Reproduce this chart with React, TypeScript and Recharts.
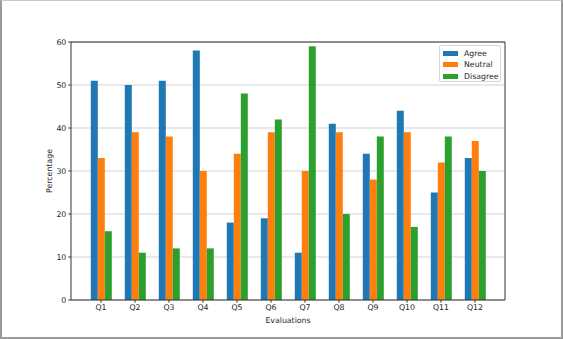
import React from "react";
import { BarChart, Bar, XAxis, YAxis, CartesianGrid } from "recharts";

const questions = ["Q1", "Q2", "Q3", "Q4", "Q5", "Q6", "Q7", "Q8", "Q9", "Q10", "Q11", "Q12"];
const agree = [51, 50, 51, 58, 18, 19, 11, 41, 34, 44, 25, 33];
const neutral = [33, 39, 38, 30, 34, 39, 30, 39, 28, 39, 32, 37];
const disagree = [16, 11, 12, 12, 48, 42, 59, 20, 38, 17, 38, 30];
const yTicks = [0, 10, 20, 30, 40, 50, 60];

const seriesInfo = [
  { key: "Agree", color: "#1f77b4" },
  { key: "Neutral", color: "#ff7f0e" },
  { key: "Disagree", color: "#2ca02c" },
];

const rows = questions.map((q, i) => ({
  name: q,
  Agree: agree[i],
  Neutral: neutral[i],
  Disagree: disagree[i],
}));

const FONT = "'DejaVu Sans', sans-serif";
const TEXT = "#262626";
const SPINE = "#333333";

const LegendBox = () => (
  <div
    style={{
      position: "absolute",
      left: 439,
      top: 45,
      boxSizing: "border-box",
      width: 62,
      height: 37,
      border: "1px solid #d6d6d6",
      borderRadius: 2,
      background: "rgba(255,255,255,0.85)",
      padding: "2px 0 0 2.5px",
      fontFamily: FONT,
      fontSize: 7.8,
      color: TEXT,
      whiteSpace: "nowrap",
    }}
  >
    {seriesInfo.map((s) => (
      <div
        key={s.key}
        style={{ display: "flex", alignItems: "center", height: 11.3 }}
      >
        <span
          style={{
            display: "inline-block",
            width: 15,
            height: 5,
            background: s.color,
            marginRight: 6.5,
          }}
        />
        <span>{s.key}</span>
      </div>
    ))}
  </div>
);

export default function App() {
  return (
    <div
      style={{
        position: "absolute",
        left: 0,
        top: 0,
        width: 563,
        height: 339,
        overflow: "hidden",
        background: "#fff",
      }}
    >
      <BarChart
        width={563}
        height={339}
        data={rows}
        margin={{ top: 41, right: 57, bottom: 0, left: 0 }}
        barCategoryGap="20%"
        barGap={0}
      >
        <CartesianGrid
          vertical={false}
          horizontal
          stroke="#d3d3d3"
          strokeWidth={1}
        />
        <XAxis
          dataKey="name"
          height={39}
          padding={{ left: 13, right: 13 }}
          axisLine={{ stroke: SPINE, strokeWidth: 1 }}
          tickLine={{ stroke: SPINE }}
          tickSize={2.7}
          tick={{ fill: TEXT, fontSize: 7.8, fontFamily: FONT }}
          interval={0}
          label={{
            value: "Evaluations",
            position: "insideBottom",
            offset: 16,
            fill: TEXT,
            fontSize: 7.8,
            fontFamily: FONT,
          }}
        />
        <XAxis
          xAxisId="top"
          orientation="top"
          dataKey="name"
          height={1}
          tick={false}
          tickLine={false}
          axisLine={{ stroke: SPINE, strokeWidth: 1 }}
        />
        <YAxis
          width={71}
          domain={[0, 60]}
          ticks={yTicks}
          interval={0}
          axisLine={{ stroke: SPINE, strokeWidth: 1 }}
          tickLine={{ stroke: SPINE }}
          tickSize={2.7}
          tick={{ fill: TEXT, fontSize: 7.8, fontFamily: FONT }}
          label={{
            value: "Percentage",
            angle: -90,
            position: "insideLeft",
            offset: 49,
            fill: TEXT,
            fontSize: 7.8,
            fontFamily: FONT,
            style: { textAnchor: "middle" },
          }}
        />
        <YAxis
          yAxisId="right"
          orientation="right"
          width={1}
          domain={[0, 60]}
          tick={false}
          tickLine={false}
          axisLine={{ stroke: SPINE, strokeWidth: 1 }}
        />
        {seriesInfo.map((s) => (
          <Bar
            key={s.key}
            dataKey={s.key}
            fill={s.color}
            isAnimationActive={false}
          />
        ))}
      </BarChart>
      <LegendBox />
      <div
        style={{
          position: "absolute",
          inset: 0,
          boxSizing: "border-box",
          borderLeft: "2px solid #9a9a9a",
          borderRight: "2px solid #9a9a9a",
          borderBottom: "2px solid #9a9a9a",
          borderTop: "1px solid #c8c8c8",
          pointerEvents: "none",
        }}
      />
    </div>
  );
}
